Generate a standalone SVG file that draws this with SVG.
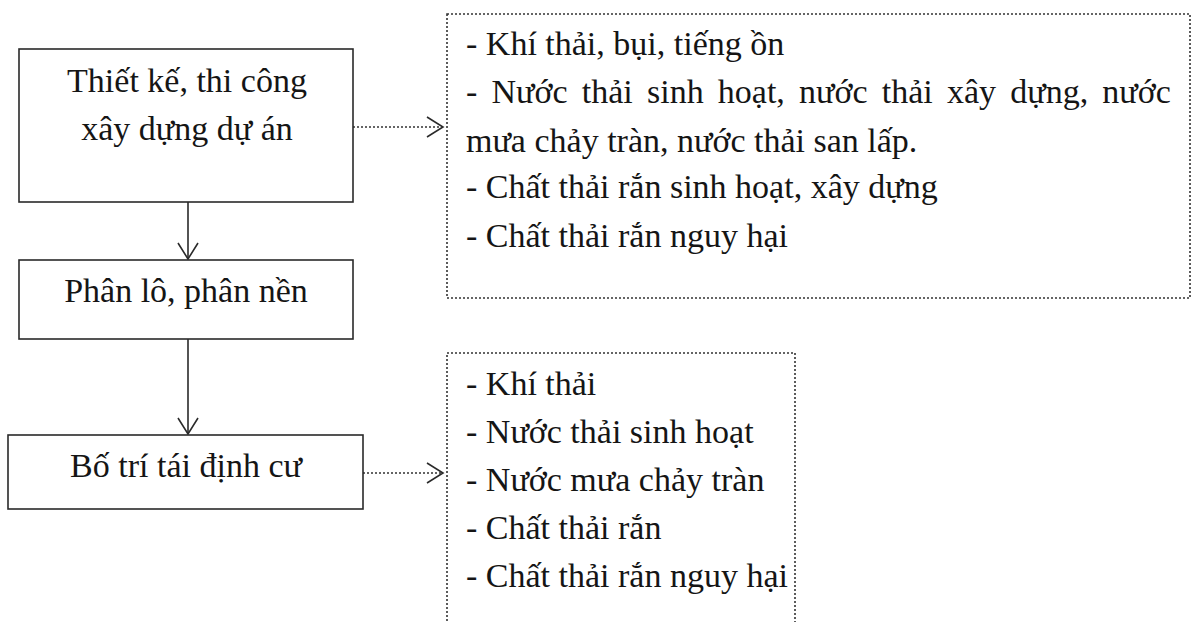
<svg xmlns="http://www.w3.org/2000/svg" width="1197" height="622" viewBox="0 0 1197 622">
<style>
.box{fill:#fff;stroke:#2a2a2a;stroke-width:1.6}
.dbox{fill:#fff;stroke:#333;stroke-width:1.6;stroke-dasharray:2 2}
.t{font-family:"Liberation Serif","Times New Roman",serif;font-size:34px;fill:#151515}
.c{text-anchor:middle}
.solid{stroke:#2a2a2a;stroke-width:1.6;fill:none}
.dot{stroke:#333;stroke-width:1.6;fill:none;stroke-dasharray:2 2}
</style>
<defs>
<marker id="ah" markerUnits="userSpaceOnUse" markerWidth="20" markerHeight="22" refX="17" refY="11" orient="auto" overflow="visible">
<path d="M1,1 L17,11 L1,21" fill="none" stroke="#2a2a2a" stroke-width="1.6" stroke-dasharray="none"/>
</marker>
</defs>
<rect width="1197" height="622" fill="#fff"/>
<g id="connectors">
<line class="solid" x1="188" y1="202" x2="188" y2="259" marker-end="url(#ah)"/>
<line class="solid" x1="188" y1="339" x2="188" y2="434" marker-end="url(#ah)"/>
<line class="dot" x1="353" y1="127" x2="443" y2="127" marker-end="url(#ah)"/>
<line class="dot" x1="363" y1="473" x2="443" y2="473" marker-end="url(#ah)"/>
</g>
<g id="node-thiet-ke">
<rect class="box" x="19" y="49" width="334" height="153"/>
<text class="t c" x="187" y="92">Thiết kế, thi công</text>
<text class="t c" x="187" y="140">xây dựng dự án</text>
</g>
<g id="node-phan-lo">
<rect class="box" x="19" y="260" width="334" height="79"/>
<text class="t c" x="186" y="302">Phân lô, phân nền</text>
</g>
<g id="node-bo-tri">
<rect class="box" x="8" y="435" width="355" height="74"/>
<text class="t c" x="186" y="477">Bố trí tái định cư</text>
</g>
<g id="node-impacts-1">
<rect class="dbox" x="447" y="14" width="743" height="284"/>
<text class="t" x="466" y="55">- Khí thải, bụi, tiếng ồn</text>
<text class="t" x="466" y="103" word-spacing="5.7">- Nước thải sinh hoạt, nước thải xây dựng, nước</text>
<text class="t" x="466" y="152">mưa chảy tràn, nước thải san lấp.</text>
<text class="t" x="466" y="198">- Chất thải rắn sinh hoạt, xây dựng</text>
<text class="t" x="466" y="247">- Chất thải rắn nguy hại</text>
</g>
<g id="node-impacts-2">
<rect class="dbox" x="447" y="353" width="348" height="290"/>
<text class="t" x="466" y="395">- Khí thải</text>
<text class="t" x="466" y="443">- Nước thải sinh hoạt</text>
<text class="t" x="466" y="491">- Nước mưa chảy tràn</text>
<text class="t" x="466" y="539">- Chất thải rắn</text>
<text class="t" x="466" y="587">- Chất thải rắn nguy hại</text>
</g>
</svg>
